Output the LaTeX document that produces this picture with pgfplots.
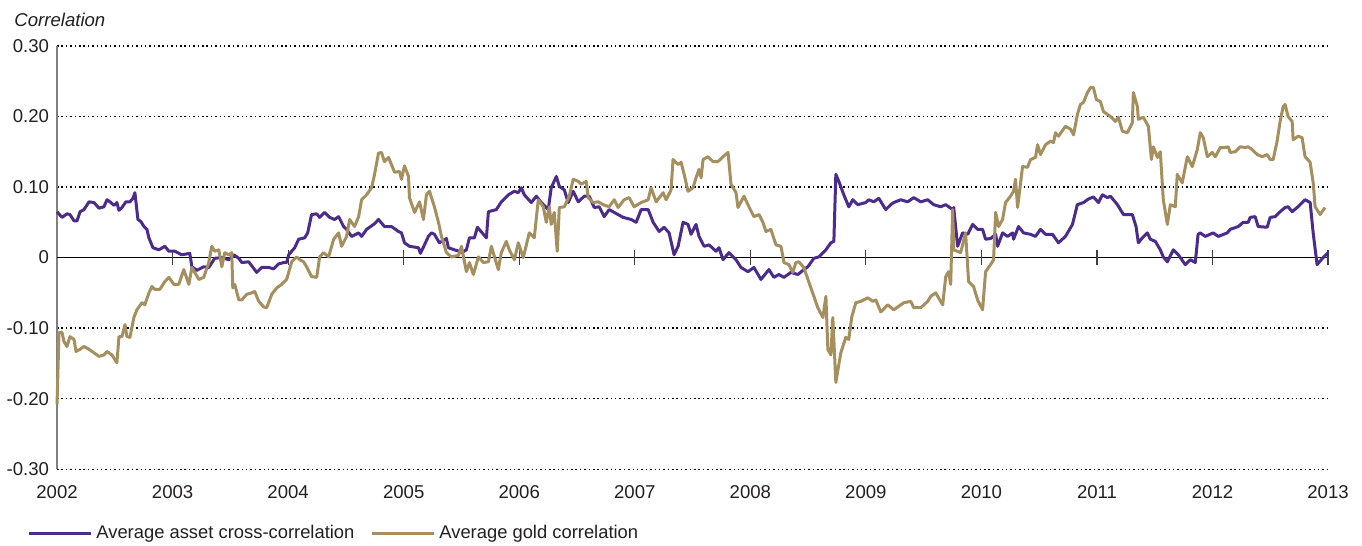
\documentclass[border=0pt]{standalone}
\usepackage{fontspec}
\setmainfont{Liberation Sans}
\usepackage{pgfplots}
\usepackage{pgfplotstable}
\pgfplotsset{compat=1.18}
\definecolor{cpurple}{RGB}{75,43,140}
\definecolor{cgold}{RGB}{166,143,94}
\definecolor{ctext}{RGB}{35,31,32}

\pgfplotstableread{
x y
2002.000 0.065
2002.043 0.057
2002.086 0.062
2002.112 0.061
2002.147 0.052
2002.173 0.052
2002.199 0.065
2002.233 0.068
2002.277 0.079
2002.320 0.078
2002.363 0.070
2002.406 0.072
2002.432 0.082
2002.458 0.079
2002.493 0.074
2002.518 0.078
2002.536 0.067
2002.562 0.071
2002.596 0.079
2002.631 0.079
2002.657 0.084
2002.674 0.092
2002.700 0.054
2002.726 0.051
2002.752 0.044
2002.778 0.040
2002.795 0.028
2002.830 0.014
2002.881 0.011
2002.933 0.016
2002.968 0.009
2003.020 0.009
2003.080 0.004
2003.149 0.006
2003.167 -0.013
2003.210 -0.018
2003.270 -0.013
2003.313 -0.014
2003.365 -0.001
2003.426 0.000
2003.486 -0.003
2003.529 0.004
2003.573 -0.001
2003.599 -0.007
2003.659 -0.006
2003.728 -0.021
2003.771 -0.014
2003.832 -0.014
2003.875 -0.016
2003.918 -0.009
2003.962 -0.007
2003.987 -0.007
2004.005 0.004
2004.057 0.014
2004.091 0.026
2004.143 0.028
2004.169 0.035
2004.203 0.061
2004.247 0.062
2004.273 0.057
2004.316 0.064
2004.359 0.057
2004.402 0.054
2004.437 0.058
2004.480 0.044
2004.506 0.040
2004.549 0.030
2004.610 0.035
2004.636 0.030
2004.679 0.040
2004.748 0.048
2004.782 0.054
2004.834 0.044
2004.895 0.044
2004.955 0.037
2004.981 0.035
2005.007 0.021
2005.050 0.016
2005.128 0.014
2005.145 0.006
2005.180 0.018
2005.214 0.030
2005.240 0.035
2005.266 0.033
2005.309 0.021
2005.370 0.027
2005.387 0.014
2005.439 0.011
2005.482 0.009
2005.500 0.007
2005.543 0.011
2005.569 0.028
2005.612 0.028
2005.638 0.043
2005.716 0.028
2005.733 0.065
2005.802 0.068
2005.845 0.079
2005.906 0.089
2005.958 0.094
2005.992 0.092
2006.018 0.099
2006.044 0.089
2006.104 0.078
2006.148 0.087
2006.191 0.078
2006.251 0.068
2006.277 0.099
2006.321 0.115
2006.347 0.101
2006.390 0.096
2006.424 0.078
2006.467 0.094
2006.511 0.079
2006.563 0.087
2006.606 0.087
2006.649 0.071
2006.692 0.072
2006.735 0.058
2006.778 0.068
2006.822 0.064
2006.899 0.057
2006.969 0.054
2007.012 0.050
2007.055 0.068
2007.116 0.068
2007.159 0.050
2007.211 0.037
2007.254 0.043
2007.297 0.035
2007.340 0.004
2007.375 0.016
2007.418 0.050
2007.461 0.047
2007.487 0.033
2007.530 0.047
2007.556 0.030
2007.600 0.016
2007.643 0.018
2007.703 0.009
2007.729 0.014
2007.764 -0.003
2007.815 0.007
2007.876 -0.003
2007.919 -0.014
2007.980 -0.020
2008.031 -0.014
2008.092 -0.031
2008.161 -0.017
2008.204 -0.028
2008.247 -0.024
2008.291 -0.028
2008.351 -0.021
2008.412 -0.024
2008.463 -0.017
2008.498 -0.013
2008.550 -0.001
2008.593 0.001
2008.654 0.011
2008.697 0.021
2008.723 0.023
2008.740 0.118
2008.766 0.108
2008.809 0.089
2008.852 0.072
2008.887 0.082
2008.930 0.075
2008.999 0.078
2009.025 0.082
2009.068 0.079
2009.112 0.084
2009.172 0.068
2009.215 0.075
2009.241 0.078
2009.302 0.082
2009.362 0.079
2009.414 0.085
2009.475 0.079
2009.535 0.082
2009.587 0.075
2009.647 0.072
2009.691 0.075
2009.751 0.068
2009.760 0.071
2009.794 0.016
2009.837 0.035
2009.881 0.033
2009.924 0.047
2009.967 0.040
2010.010 0.040
2010.036 0.026
2010.079 0.027
2010.123 0.033
2010.140 0.016
2010.183 0.035
2010.226 0.030
2010.270 0.035
2010.278 0.026
2010.321 0.044
2010.365 0.035
2010.425 0.033
2010.468 0.030
2010.511 0.040
2010.555 0.033
2010.615 0.033
2010.667 0.021
2010.727 0.030
2010.788 0.047
2010.830 0.075
2010.883 0.078
2010.926 0.083
2010.969 0.086
2011.013 0.078
2011.047 0.089
2011.090 0.085
2011.116 0.087
2011.177 0.075
2011.229 0.061
2011.263 0.061
2011.306 0.061
2011.338 0.044
2011.358 0.021
2011.393 0.028
2011.436 0.035
2011.462 0.026
2011.505 0.023
2011.548 0.011
2011.574 0.001
2011.609 -0.006
2011.661 0.011
2011.704 0.004
2011.764 -0.010
2011.808 -0.003
2011.851 -0.007
2011.875 0.033
2011.894 0.035
2011.937 0.030
2012.006 0.035
2012.050 0.030
2012.127 0.035
2012.153 0.040
2012.222 0.044
2012.266 0.050
2012.309 0.050
2012.326 0.057
2012.369 0.058
2012.395 0.044
2012.473 0.043
2012.499 0.057
2012.542 0.058
2012.585 0.065
2012.628 0.071
2012.654 0.072
2012.689 0.065
2012.732 0.071
2012.758 0.075
2012.801 0.082
2012.845 0.078
2012.871 0.035
2012.905 -0.010
2012.957 0.000
2013.000 0.007
}\assettable

\pgfplotstableread{
x y
2002.000 -0.208
2002.017 -0.106
2002.043 -0.106
2002.060 -0.119
2002.086 -0.126
2002.112 -0.112
2002.147 -0.116
2002.164 -0.133
2002.199 -0.130
2002.233 -0.126
2002.277 -0.130
2002.320 -0.135
2002.363 -0.140
2002.406 -0.138
2002.432 -0.133
2002.475 -0.138
2002.518 -0.149
2002.536 -0.112
2002.562 -0.112
2002.588 -0.095
2002.605 -0.112
2002.631 -0.113
2002.665 -0.085
2002.691 -0.074
2002.735 -0.064
2002.760 -0.067
2002.795 -0.050
2002.821 -0.041
2002.847 -0.045
2002.890 -0.045
2002.933 -0.034
2002.968 -0.028
2003.011 -0.038
2003.054 -0.038
2003.097 -0.017
2003.141 -0.038
2003.167 -0.014
2003.227 -0.031
2003.270 -0.028
2003.313 -0.007
2003.339 0.016
2003.365 0.009
2003.400 0.011
2003.426 -0.013
2003.452 0.007
2003.486 0.004
2003.512 0.007
2003.521 -0.043
2003.538 -0.038
2003.573 -0.060
2003.599 -0.060
2003.642 -0.052
2003.685 -0.050
2003.711 -0.048
2003.746 -0.062
2003.789 -0.070
2003.815 -0.071
2003.858 -0.052
2003.901 -0.043
2003.944 -0.038
2003.987 -0.031
2004.031 -0.006
2004.074 0.001
2004.100 -0.003
2004.134 -0.006
2004.160 -0.013
2004.203 -0.027
2004.247 -0.028
2004.273 0.001
2004.307 0.007
2004.350 0.001
2004.394 0.026
2004.437 0.035
2004.463 0.016
2004.506 0.030
2004.532 0.054
2004.575 0.044
2004.610 0.058
2004.636 0.082
2004.679 0.089
2004.722 0.099
2004.748 0.118
2004.782 0.148
2004.808 0.149
2004.834 0.136
2004.869 0.142
2004.921 0.121
2004.964 0.122
2004.981 0.111
2005.007 0.130
2005.042 0.115
2005.050 0.085
2005.094 0.064
2005.137 0.079
2005.171 0.054
2005.197 0.089
2005.223 0.094
2005.266 0.072
2005.301 0.050
2005.327 0.030
2005.370 0.007
2005.413 0.001
2005.474 0.003
2005.500 0.016
2005.543 -0.020
2005.569 -0.007
2005.603 -0.024
2005.647 0.001
2005.690 -0.007
2005.733 -0.006
2005.759 0.016
2005.819 -0.017
2005.845 0.007
2005.888 0.023
2005.914 0.011
2005.958 -0.003
2005.992 0.021
2006.035 0.000
2006.087 0.035
2006.130 0.028
2006.165 0.082
2006.208 0.072
2006.234 0.050
2006.260 0.072
2006.277 0.047
2006.303 0.064
2006.329 0.009
2006.347 0.071
2006.390 0.072
2006.433 0.087
2006.467 0.111
2006.511 0.108
2006.537 0.104
2006.580 0.108
2006.597 0.085
2006.640 0.078
2006.684 0.079
2006.727 0.075
2006.778 0.072
2006.822 0.082
2006.856 0.071
2006.908 0.082
2006.951 0.085
2006.994 0.072
2007.055 0.078
2007.116 0.082
2007.141 0.099
2007.185 0.079
2007.245 0.092
2007.271 0.082
2007.314 0.096
2007.331 0.139
2007.375 0.132
2007.401 0.135
2007.427 0.118
2007.461 0.094
2007.504 0.099
2007.530 0.113
2007.556 0.125
2007.574 0.113
2007.591 0.139
2007.634 0.143
2007.677 0.136
2007.720 0.136
2007.764 0.143
2007.807 0.149
2007.833 0.104
2007.876 0.092
2007.893 0.071
2007.945 0.087
2007.988 0.072
2008.031 0.058
2008.075 0.061
2008.109 0.050
2008.135 0.037
2008.178 0.040
2008.222 0.018
2008.265 0.016
2008.291 -0.007
2008.334 -0.010
2008.368 -0.021
2008.394 -0.007
2008.420 -0.006
2008.463 -0.014
2008.507 -0.035
2008.550 -0.055
2008.584 -0.071
2008.628 -0.085
2008.654 -0.055
2008.671 -0.130
2008.697 -0.138
2008.714 -0.085
2008.740 -0.177
2008.783 -0.135
2008.826 -0.113
2008.852 -0.116
2008.878 -0.084
2008.913 -0.064
2008.956 -0.062
2009.017 -0.057
2009.060 -0.062
2009.086 -0.060
2009.129 -0.077
2009.189 -0.067
2009.241 -0.074
2009.328 -0.064
2009.388 -0.062
2009.414 -0.071
2009.475 -0.071
2009.535 -0.062
2009.561 -0.055
2009.604 -0.050
2009.665 -0.067
2009.691 -0.027
2009.716 -0.020
2009.734 -0.038
2009.751 0.068
2009.760 0.011
2009.820 0.007
2009.863 0.035
2009.889 -0.034
2009.932 -0.041
2009.967 -0.060
2010.010 -0.074
2010.036 -0.020
2010.079 -0.010
2010.105 -0.003
2010.123 0.064
2010.149 0.044
2010.183 0.054
2010.209 0.078
2010.252 0.087
2010.278 0.094
2010.295 0.111
2010.313 0.071
2010.356 0.129
2010.399 0.128
2010.425 0.139
2010.468 0.142
2010.486 0.160
2010.511 0.146
2010.555 0.160
2010.598 0.165
2010.624 0.163
2010.641 0.177
2010.667 0.172
2010.727 0.186
2010.771 0.182
2010.797 0.174
2010.831 0.203
2010.857 0.217
2010.883 0.220
2010.918 0.234
2010.944 0.241
2010.969 0.241
2010.995 0.224
2011.030 0.221
2011.056 0.207
2011.116 0.200
2011.160 0.193
2011.185 0.199
2011.220 0.179
2011.263 0.177
2011.306 0.191
2011.315 0.234
2011.350 0.214
2011.358 0.196
2011.401 0.199
2011.445 0.186
2011.471 0.139
2011.488 0.157
2011.523 0.142
2011.548 0.150
2011.574 0.082
2011.609 0.047
2011.635 0.075
2011.678 0.072
2011.695 0.118
2011.738 0.106
2011.782 0.143
2011.825 0.129
2011.868 0.153
2011.894 0.177
2011.920 0.170
2011.955 0.143
2011.998 0.149
2012.024 0.143
2012.067 0.156
2012.110 0.156
2012.136 0.157
2012.153 0.149
2012.196 0.150
2012.240 0.157
2012.283 0.156
2012.309 0.157
2012.343 0.153
2012.387 0.146
2012.430 0.143
2012.473 0.146
2012.499 0.139
2012.525 0.139
2012.559 0.165
2012.585 0.193
2012.611 0.214
2012.628 0.217
2012.654 0.200
2012.689 0.193
2012.698 0.167
2012.741 0.172
2012.775 0.170
2012.801 0.143
2012.845 0.135
2012.871 0.106
2012.888 0.072
2012.931 0.061
2012.974 0.071
}\goldtable

\begin{document}
\begin{tikzpicture}
\begin{axis}[
  name=ax,
  scale only axis,
  width=636.5pt, height=212pt,
  xmin=2002, xmax=2013, ymin=-0.3, ymax=0.3,
  axis line style={draw=none},
  xtick={2002,2003,2004,2005,2006,2007,2008,2009,2010,2011,2012,2013},
  xticklabels={2002,2003,2004,2005,2006,2007,2008,2009,2010,2011,2012,2013},
  ytick={-0.3,-0.2,-0.1,0,0.1,0.2,0.3},
  yticklabels={-0.30,-0.20,-0.10,0,0.10,0.20,0.30},
  tick style={draw=none},
  xtick pos=bottom, ytick pos=left,
  /pgf/number format/assume math mode=true,
  tick label style={font=\fontsize{9.3}{11}\selectfont, text=ctext},
  xticklabel style={yshift=-4.5pt},
  yticklabel style={xshift=-0.5pt},
  ymajorgrids,
  major grid style={black, line width=0.75pt, dash pattern=on 0.75pt off 1.45pt},
  legend columns=2,
  legend style={at={(axis description cs:-0.0236,-0.151)}, anchor=west,
    draw=none, fill=none, inner sep=0pt,
    font=\fontsize{9.2}{11}\selectfont, text=ctext,
    /tikz/every even column/.append style={column sep=6pt}},
  legend image code/.code={\draw[#1, line width=1.6pt] (0pt,0pt) -- (27.5pt,0pt); \path (0pt,0pt) -- (31pt,0pt);},
  clip=false,
]
\draw[black!50, line width=0.8pt] (rel axis cs:0,0) -- (rel axis cs:0,1);
\addplot[black, line width=0.5pt, forget plot] coordinates {(2002,0) (2013,0)};
\pgfplotsinvokeforeach{2003,2004,2005,2006,2007,2008,2009,2010,2011,2012,2013}{
  \draw[black!75, line width=0.6pt] (axis cs:#1,-0.011) -- (axis cs:#1,0.011);
}
\addplot[cpurple, line width=1.5pt, line join=round] table[x=x,y=y] {\assettable};
\addlegendentry{Average asset cross-correlation}
\addplot[cgold, line width=1.5pt, line join=round] table[x=x,y=y] {\goldtable};
\addlegendentry{Average gold correlation}
\node[anchor=west, inner sep=0pt, font=\itshape\fontsize{9.3}{11}\selectfont, text=ctext] at (axis description cs:-0.0338,1.061) {Correlation};
\end{axis}
\path ([xshift=-27.5pt,yshift=-36pt]ax.south west) rectangle ([xshift=17pt,yshift=23pt]ax.north east);
\end{tikzpicture}
\end{document}
